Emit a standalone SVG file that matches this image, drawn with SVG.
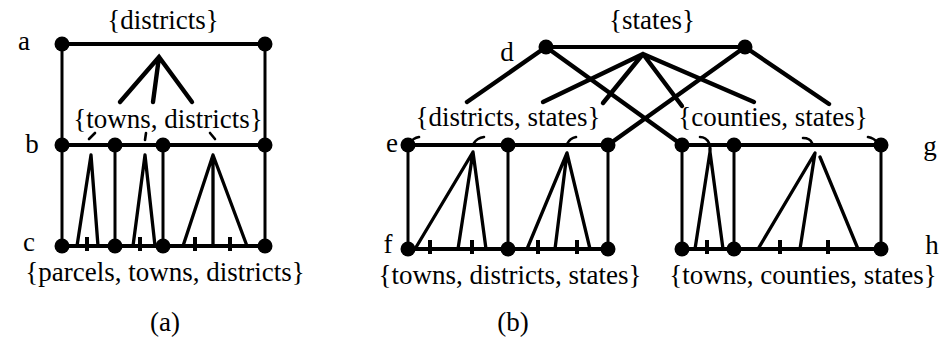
<svg xmlns="http://www.w3.org/2000/svg" width="948" height="341" viewBox="0 0 948 341">
<style>
text{font-family:"Liberation Serif","Times New Roman",serif;font-size:27px;fill:#000}
.m{text-anchor:middle}
.h{stroke:#000;stroke-width:4.2;fill:none;stroke-linecap:round}
.v{stroke:#000;stroke-width:3;fill:none}
.f{stroke:#000;stroke-width:4.4;fill:none;stroke-linecap:round}
.t{stroke:#000;stroke-width:3.3;fill:none;stroke-linecap:round;stroke-linejoin:round}
.k{stroke:#000;stroke-width:4;fill:none}
.hk{stroke:#000;stroke-width:2.6;fill:none;stroke-linecap:round}
circle{fill:#000}
</style>
<rect width="948" height="341" fill="#fff"/>
<g id="connectors">
<line class="h" x1="62" y1="44" x2="265" y2="44"/>
<line class="v" x1="62" y1="44" x2="62" y2="246"/>
<line class="v" x1="265" y1="44" x2="265" y2="246"/>
<path class="f" d="M120,102 L159,57 L192,102 M159,57 L153,102"/>
<line class="h" x1="62" y1="145" x2="265" y2="145"/>
<line class="v" x1="115" y1="145" x2="115" y2="246"/>
<line class="v" x1="163" y1="145" x2="163" y2="246"/>
<line class="h" x1="62" y1="246" x2="265" y2="246"/>
<path class="t" d="M77,246 L91,155 L98,246"/>
<path class="t" d="M133,246 L145,155 L155,246"/>
<path class="t" d="M183,246 L213,155 L247,246 M213,155 L213,246"/>
<path class="k" d="M87,237 V251 M140,237 V251 M195,237 V251 M230,237 V251"/>
<path class="hk" d="M89,139 L95,133 M146,133 L145,140 M210,133 L215,139"/>
<line class="h" x1="546" y1="47" x2="745" y2="47"/>
<path class="f" d="M546,47 L467,102 M546,47 L682,145 M745,47 L608,145 M745,47 L829,104"/>
<path class="f" d="M543,102 L643,54 L603,103 M643,54 L682,106 M643,54 L754,102"/>
<line class="h" x1="408" y1="145" x2="608" y2="145"/>
<line class="h" x1="408" y1="249" x2="608" y2="249"/>
<line class="v" x1="408" y1="145" x2="408" y2="249"/>
<line class="v" x1="508" y1="145" x2="508" y2="249"/>
<line class="v" x1="608" y1="145" x2="608" y2="249"/>
<path class="t" d="M415,249 L473,152 L458,249 M473,152 L486,249"/>
<path class="t" d="M527,249 L567,153 L555,249 M567,153 L590,249"/>
<path class="k" d="M430,240 V254 M472,240 V254 M538,240 V254 M577,240 V254"/>
<path class="hk" d="M410,143 Q413,138 419,137 M474,143 Q477,138 484,137 M567,144 Q570,138 576,137"/>
<line class="h" x1="682" y1="145" x2="881" y2="145"/>
<line class="h" x1="682" y1="249" x2="881" y2="249"/>
<line class="v" x1="682" y1="145" x2="682" y2="249"/>
<line class="v" x1="734" y1="145" x2="734" y2="249"/>
<line class="v" x1="881" y1="145" x2="881" y2="249"/>
<path class="t" d="M710,148 L710,152 M695,249 L710,152 L723,249"/>
<path class="t" d="M758,249 L815,153 L800,249 M820,157 L858,249"/>
<path class="k" d="M707,240 V254 M780,240 V254 M828,240 V254"/>
<path class="hk" d="M700,137 Q706,137 709,143 M803,138 Q810,138 812,143 M868,137 Q874,138 878,143"/>
</g>
<g id="node-a"><circle cx="62" cy="44" r="7.5"/><circle cx="265" cy="44" r="7.5"/><text x="24" y="50" class="m">a</text><text x="163" y="29" class="m">{districts}</text></g>
<g id="node-b"><circle cx="62" cy="145" r="7.5"/><circle cx="115" cy="145" r="7.5"/><circle cx="163" cy="145" r="7.5"/><circle cx="265" cy="145" r="7.5"/><text x="32" y="153" class="m">b</text><text x="168" y="128" class="m">{towns, districts}</text></g>
<g id="node-c"><circle cx="62" cy="246" r="7.5"/><circle cx="115" cy="246" r="7.5"/><circle cx="163" cy="246" r="7.5"/><circle cx="265" cy="246" r="7.5"/><text x="29" y="251" class="m">c</text><text x="165" y="281" class="m">{parcels, towns, districts}</text></g>
<g id="node-d"><circle cx="546" cy="47" r="7.5"/><circle cx="745" cy="47" r="7.5"/><text x="507" y="61" class="m">d</text><text x="652" y="29" class="m">{states}</text></g>
<g id="node-e"><circle cx="408" cy="145" r="7.5"/><circle cx="508" cy="145" r="7.5"/><circle cx="608" cy="145" r="7.5"/><text x="392" y="152" class="m">e</text><text x="508" y="126" class="m">{districts, states}</text></g>
<g id="node-f"><circle cx="408" cy="249" r="7.5"/><circle cx="508" cy="249" r="7.5"/><circle cx="608" cy="249" r="7.5"/><text x="388" y="253" class="m">f</text><text x="510" y="284" class="m">{towns, districts, states}</text></g>
<g id="node-g"><circle cx="682" cy="145" r="7.5"/><circle cx="734" cy="145" r="7.5"/><circle cx="881" cy="145" r="7.5"/><text x="930" y="155" class="m">g</text><text x="773" y="126" class="m">{counties, states}</text></g>
<g id="node-h"><circle cx="682" cy="249" r="7.5"/><circle cx="734" cy="249" r="7.5"/><circle cx="881" cy="249" r="7.5"/><text x="932" y="254" class="m">h</text><text x="803" y="284" class="m">{towns, counties, states}</text></g>
<g id="captions"><text x="165" y="331" class="m">(a)</text><text x="513" y="331" class="m">(b)</text></g>
</svg>
